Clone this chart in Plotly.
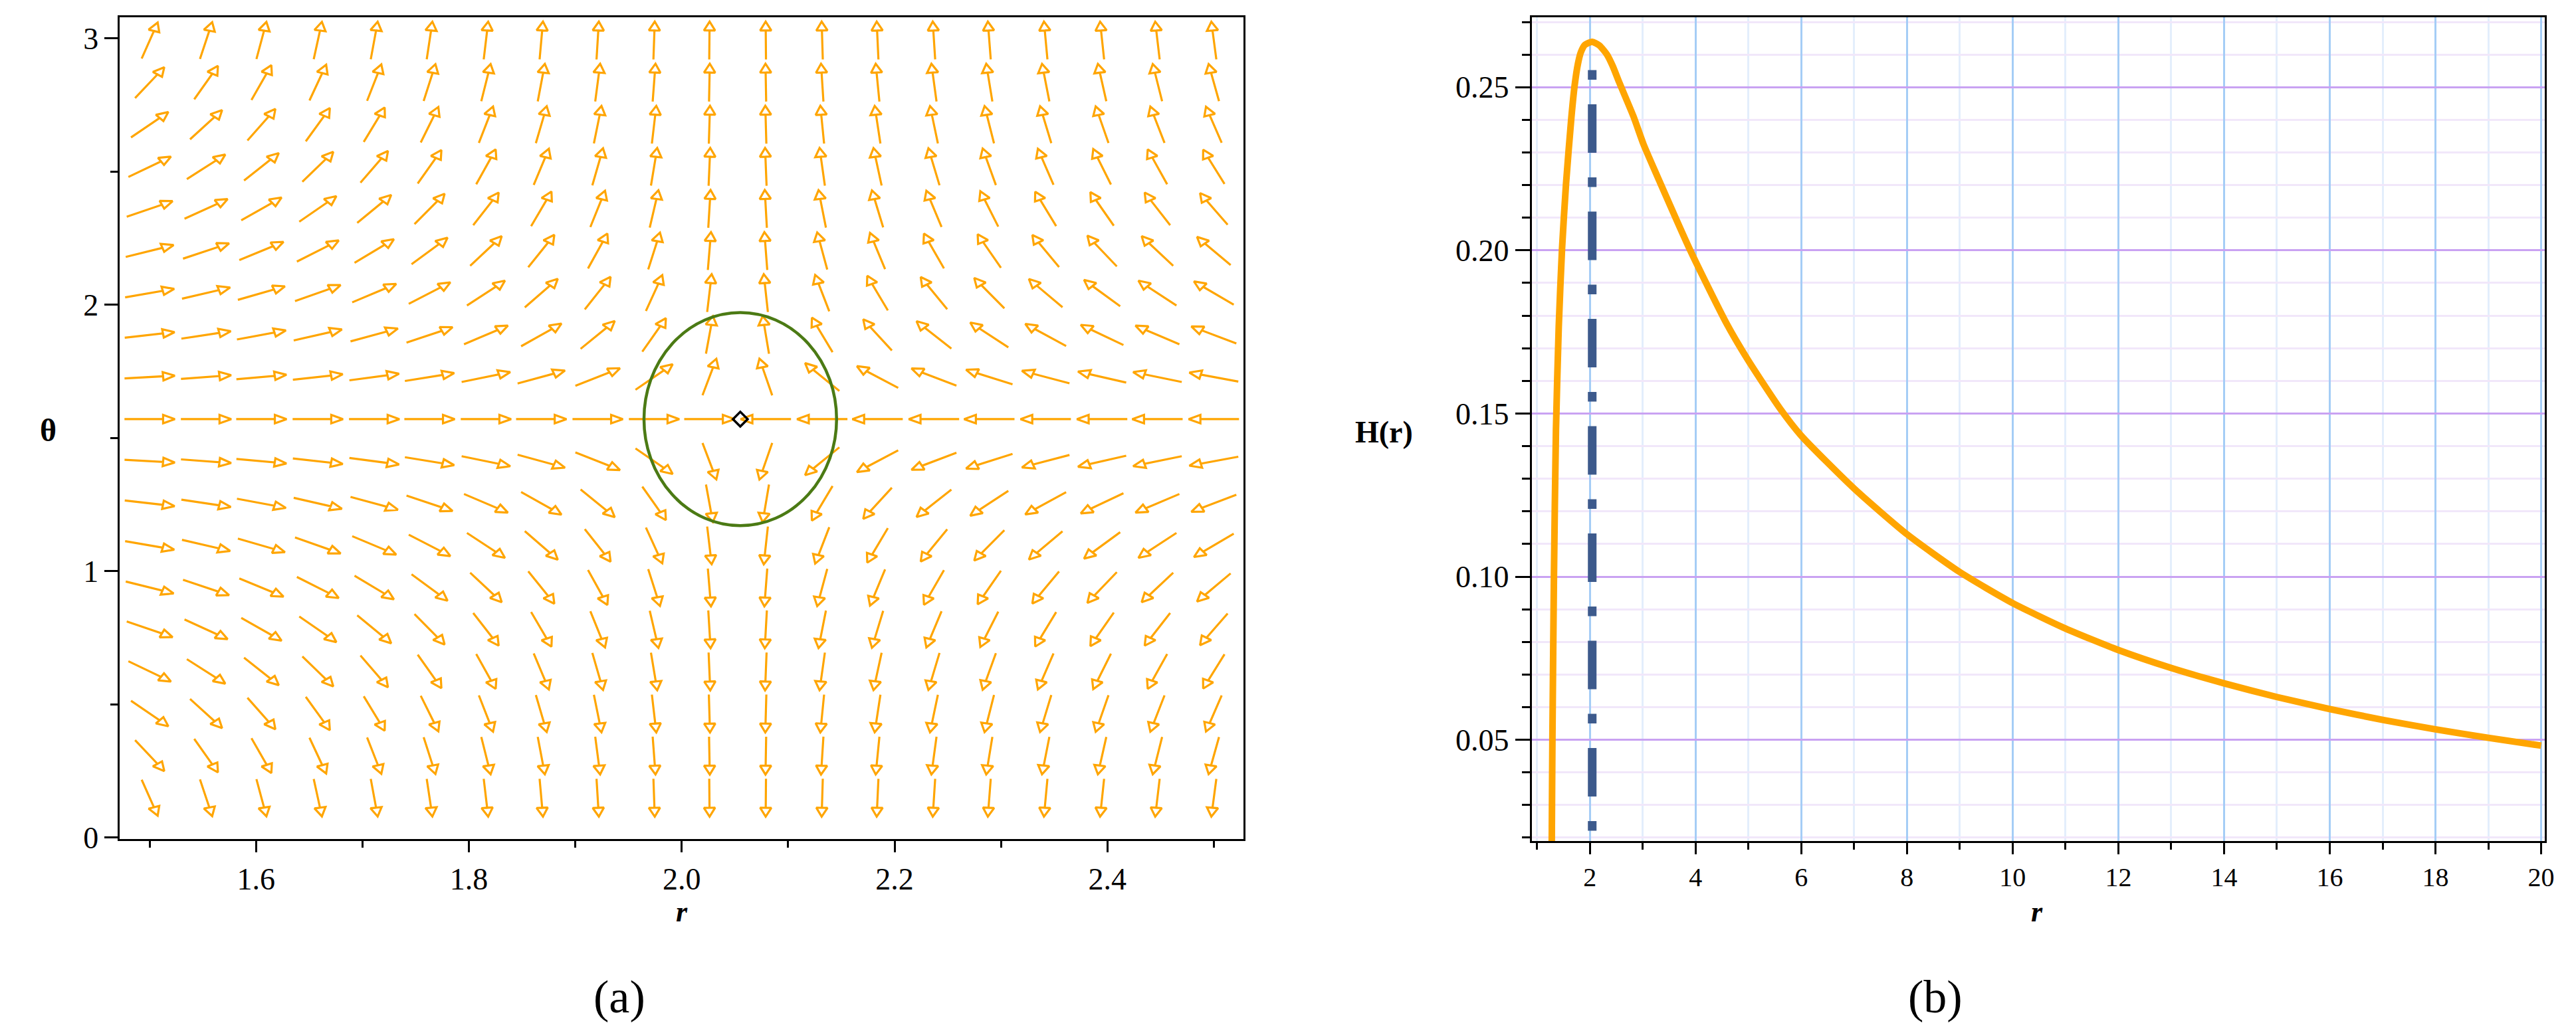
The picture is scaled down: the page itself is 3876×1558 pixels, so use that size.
import numpy as np
import plotly.graph_objects as go

W, HGT = 3876, 1558

# ---------------- panel (a): direction field ----------------
r_cols = [1.500, 1.553, 1.605, 1.658, 1.711, 1.763, 1.816, 1.868, 1.921, 1.974,
          2.026, 2.079, 2.132, 2.184, 2.237, 2.289, 2.342, 2.395, 2.447, 2.500]
theta_rows = [0.150, 0.308, 0.466, 0.624, 0.782, 0.939, 1.097, 1.255, 1.413, 1.571,
              1.729, 1.887, 2.044, 2.202, 2.360, 2.518, 2.676, 2.834, 2.992]
# radial component of the field per column (read from arrow slopes)
phi_r = [2.90, 2.17, 1.75, 1.43, 1.20, 0.98, 0.77, 0.58, 0.40, 0.23,
         0.060, -0.055, -0.195, -0.30, -0.415, -0.50, -0.60, -0.69, -0.77, -0.86]
# angular component of the field per row
phi_t = [-6.6, -3.1, -2.0, -1.4, -1.0, -0.73, -0.51, -0.33, -0.16, 0.0,
         0.16, 0.33, 0.51, 0.73, 1.0, 1.4, 2.0, 3.1, 6.6]

crit_r, crit_theta = 2.055, 1.571          # zero point (diamond)
ell_half_r, ell_half_theta = 0.0905, 0.40  # green contour half-axes

xr_a = [1.472, 2.528]
yr_a = [-0.006, 3.080]

# ---------------- panel (b): H(r) ----------------
r_curve = [1.278, 1.280, 1.292, 1.321, 1.359, 1.412, 1.474, 1.550, 1.650, 1.713,
           1.775, 1.832, 1.907, 2.045, 2.180, 2.325, 2.430, 2.556, 2.827, 3.016,
           3.329, 3.900, 4.590, 5.000, 5.600, 6.000, 7.000, 8.000, 9.000, 10.00,
           11.00, 12.00, 13.00, 14.00, 15.00, 16.00, 17.00, 18.00, 19.00, 20.00]
H_curve = [0.0120, 0.0189, 0.0500, 0.1001, 0.1448, 0.1767, 0.2005, 0.2205, 0.2406, 0.2506,
           0.2572, 0.2608, 0.2630, 0.2639, 0.2628, 0.2600, 0.2566, 0.2515, 0.2410, 0.2325,
           0.2208, 0.2000, 0.1775, 0.1662, 0.1515, 0.1432, 0.1270, 0.1130, 0.1014, 0.0919,
           0.0841, 0.0775, 0.0720, 0.0673, 0.0631, 0.0594, 0.0561, 0.0532, 0.0506, 0.0482]
r_ps = 2.045
ps_line_H = [0.0221, 0.2625]

xr_b = [0.9, 20.07]
yr_b = [0.0189, 0.2715]

# ---------------- layout geometry (pixels) ----------------
A_L, A_R, A_T, A_B = 173, 1870, 18, 1275
B_L, B_R, B_T, B_B = 2305, 3835, 18, 1278

pxx = (A_R - A_L) / (xr_a[1] - xr_a[0])
pxy = (A_B - A_T) / (yr_a[1] - yr_a[0])
d_r = (r_cols[-1] - r_cols[0]) / (len(r_cols) - 1)
d_t = (theta_rows[-1] - theta_rows[0]) / (len(theta_rows) - 1)
cell_x = d_r * pxx
cell_y = d_t * pxy

ax_x, ax_y = [], []
for j, th in enumerate(theta_rows):
    for i, rr in enumerate(r_cols):
        vx, vy = phi_r[i] / cell_x, phi_t[j] / cell_y
        n = np.hypot(vx, vy)
        ux, uy = vx / n, vy / n
        px_, py_ = -uy, ux
        L, hl, hw = 0.45, 0.21, 0.10
        pts = [(-L * ux, -L * uy),
               ((L - hl) * ux, (L - hl) * uy),
               ((L - hl) * ux + hw * px_, (L - hl) * uy + hw * py_),
               (L * ux, L * uy),
               ((L - hl) * ux - hw * px_, (L - hl) * uy - hw * py_),
               ((L - hl) * ux, (L - hl) * uy)]
        for a, b in pts:
            ax_x.append(rr + a * d_r)
            ax_y.append(th + b * d_t)
        ax_x.append(None)
        ax_y.append(None)

ORANGE = "#FFA500"
fig = go.Figure()
fig.add_trace(go.Scatter(x=ax_x, y=ax_y, mode="lines", xaxis="x", yaxis="y",
                         line=dict(color=ORANGE, width=3.2), hoverinfo="skip",
                         showlegend=False))
fig.add_shape(type="circle", xref="x", yref="y",
              x0=crit_r - ell_half_r, x1=crit_r + ell_half_r,
              y0=crit_theta - ell_half_theta, y1=crit_theta + ell_half_theta,
              line=dict(color="#4B7A14", width=4.5), layer="above")
fig.add_trace(go.Scatter(x=[crit_r], y=[crit_theta], mode="markers", xaxis="x", yaxis="y",
                         marker=dict(symbol="diamond-open", size=17, color="black",
                                     line=dict(color="black", width=3.5)),
                         showlegend=False))

# panel (b)
fig.add_trace(go.Scatter(x=r_curve, y=H_curve, mode="lines", xaxis="x2", yaxis="y2",
                         line=dict(color=ORANGE, width=10, shape="spline", smoothing=0.6),
                         showlegend=False))
fig.add_trace(go.Scatter(x=[r_ps, r_ps], y=ps_line_H, mode="lines", xaxis="x2", yaxis="y2",
                         line=dict(color="#3D5A8C", width=13, dash="14.5px,37px,73px,37px"),
                         showlegend=False))

SERIF = "Liberation Serif"
tickfont = dict(family=SERIF, size=46, color="black")
common = dict(showline=True, mirror=True, linecolor="black", linewidth=3,
              ticks="outside", tickcolor="black", tickwidth=3, zeroline=False)

fig.update_layout(
    width=W, height=HGT, autosize=False,
    margin=dict(l=0, r=0, t=0, b=0),
    paper_bgcolor="white", plot_bgcolor="white",
    xaxis=dict(domain=[A_L / W, A_R / W], range=xr_a, anchor="y",
               tickvals=[1.6, 1.8, 2.0, 2.2, 2.4], ticktext=["1.6", "1.8", "2.0", "2.2", "2.4"],
               ticklen=17, showgrid=False, tickfont=tickfont,
               minor=dict(tickvals=[1.5, 1.7, 1.9, 2.1, 2.3, 2.5], ticklen=10, tickwidth=3,
                          ticks="outside", tickcolor="black", showgrid=False),
               **common),
    yaxis=dict(domain=[1 - A_B / HGT, 1 - A_T / HGT], range=yr_a, anchor="x",
               tickvals=[0, 1, 2, 3], ticktext=["0", "1", "2", "3"],
               ticklen=20, showgrid=False, tickfont=tickfont,
               minor=dict(tickvals=[0.5, 1.5, 2.5], ticklen=11, tickwidth=3,
                          ticks="outside", tickcolor="black", showgrid=False),
               **common),
    xaxis2=dict(domain=[B_L / W, B_R / W], range=xr_b, anchor="y2",
                tickvals=[2, 4, 6, 8, 10, 12, 14, 16, 18, 20],
                ticktext=["2", "4", "6", "8", "10", "12", "14", "16", "18", "20"],
                ticklen=17, showgrid=True, gridcolor="#A5CDF6", gridwidth=3,
                tickfont=dict(family=SERIF, size=40, color="black"),
                minor=dict(tickvals=[1, 3, 5, 7, 9, 11, 13, 15, 17, 19], ticklen=10, tickwidth=3,
                           ticks="outside", tickcolor="black", showgrid=True,
                           gridcolor="#E3EEFC", gridwidth=3),
                **common),
    yaxis2=dict(domain=[1 - B_B / HGT, 1 - B_T / HGT], range=yr_b, anchor="x2",
                tickvals=[0.05, 0.10, 0.15, 0.20, 0.25],
                ticktext=["0.05", "0.10", "0.15", "0.20", "0.25"],
                ticklen=22, showgrid=True, gridcolor="#C9A2F2", gridwidth=3,
                tickfont=tickfont,
                minor=dict(tickvals=[0.02, 0.03, 0.04, 0.06, 0.07, 0.08, 0.09, 0.11, 0.12,
                                     0.13, 0.14, 0.16, 0.17, 0.18, 0.19, 0.21, 0.22, 0.23,
                                     0.24, 0.26, 0.27],
                           ticklen=12, tickwidth=3, ticks="outside", tickcolor="black",
                           showgrid=True, gridcolor="#F1E7FA", gridwidth=3),
                **common),
)

def ann(text, xpx, ypx, size, bold=False, italic=False):
    t = text
    if italic:
        t = "<i>" + t + "</i>"
    if bold:
        t = "<b>" + t + "</b>"
    fig.add_annotation(text=t, x=xpx / W, y=1 - ypx / HGT, xref="paper", yref="paper",
                       showarrow=False, xanchor="center", yanchor="middle",
                       font=dict(family=SERIF, size=size, color="black"))

ann("θ", 65, 650, 48, bold=True)
ann("r", 1022, 1386, 44, bold=True, italic=True)
ann("H(r)", 2082, 653, 46, bold=True)
ann("r", 3068, 1386, 44, bold=True, italic=True)
ann("(a)", 927, 1516, 70)
ann("(b)", 2915, 1516, 70)

fig.write_html("out.html")
